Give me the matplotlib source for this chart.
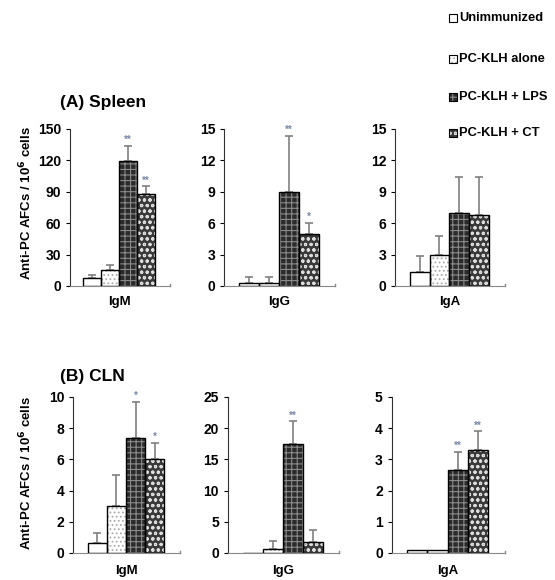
import numpy as np
import matplotlib.pyplot as plt
from matplotlib.patches import Rectangle

plt.rcParams['font.family'] = ['Liberation Sans', 'DejaVu Sans']
plt.rcParams['font.weight'] = 'bold'
plt.rcParams['hatch.linewidth'] = 0.8

groups = ['Unimmunized', 'PC-KLH alone', 'PC-KLH + LPS', 'PC-KLH + CT']

# spleen
spleen_igm = [8, 15, 119, 88]
spleen_igm_err = [2, 5, 15, 7]
spleen_igm_sig = ['', '', '**', '**']
spleen_igg = [0.3, 0.3, 9.0, 5.0]
spleen_igg_err = [0.6, 0.6, 5.3, 1.0]
spleen_igg_sig = ['', '', '**', '*']
spleen_iga = [1.3, 3.0, 7.0, 6.8]
spleen_iga_err = [1.6, 1.8, 3.4, 3.6]
spleen_iga_sig = ['', '', '', '']

# CLN
cln_igm = [0.65, 3.0, 7.4, 6.05]
cln_igm_err = [0.6, 2.0, 2.3, 1.0]
cln_igm_sig = ['', '', '*', '*']
cln_igg = [0.0, 0.7, 17.5, 1.7]
cln_igg_err = [0.0, 1.2, 3.6, 2.0]
cln_igg_sig = ['', '', '**', '']
cln_iga = [0.08, 0.08, 2.65, 3.3]
cln_iga_err = [0.0, 0.0, 0.6, 0.6]
cln_iga_sig = ['', '', '**', '**']

# bar styles: (face, hatch, hatch colour)
styles = [('white', None, 'black'),
          ('white', '....', '#aaaaaa'),
          ('#2b2b2b', '+++', '#8a8a8a'),
          ('#3a3a3a', 'ooo', '#dddddd')]


def draw(ax, vals, errs, sig, ymax, step, label, pad):
    x = np.arange(1, 5)
    for i in range(4):
        face, hatch, hc = styles[i]
        ax.bar(x[i], vals[i], width=1.0, color=face, hatch=hatch,
               edgecolor=hc, linewidth=0, zorder=2)
        ax.bar(x[i], vals[i], width=1.0, fill=False, edgecolor='black',
               linewidth=1.0, zorder=3)
        if errs[i] > 0:
            ax.errorbar(x[i], vals[i], yerr=[[0], [errs[i]]], fmt='none',
                        ecolor='#808080', elinewidth=1.2, capsize=3,
                        capthick=1.2, zorder=1)
        if sig[i]:
            ax.text(x[i], vals[i] + errs[i] + ymax * 0.005, sig[i],
                    ha='center', va='bottom', fontsize=7, color='#7888a8')
    ax.set_xlim(-0.25, 5.33)
    ax.set_ylim(0, ymax)
    ax.set_yticks(np.arange(0, ymax + step / 2, step))
    ax.set_xticks([2.5], [label])
    ax.tick_params(axis='x', length=0, pad=pad, labelsize=9.5)
    ax.tick_params(axis='y', direction='out', length=3, labelsize=10)
    for t in ax.get_yticklabels() + ax.get_xticklabels():
        t.set_fontweight('bold')
    ax.spines['top'].set_visible(False)
    ax.spines['right'].set_visible(False)
    ax.spines['left'].set_color('#333333')
    ax.spines['bottom'].set_color('#888888')
    ax.plot([5.33, 5.33], [0, ymax * 0.015], color='#888888', lw=1,
            clip_on=False)


fig = plt.figure(figsize=(5.55, 5.8), dpi=100)

top_row = [(0.126, 0.180, spleen_igm, spleen_igm_err, spleen_igm_sig, 150, 30, 'IgM'),
           (0.404, 0.200, spleen_igg, spleen_igg_err, spleen_igg_sig, 15, 3, 'IgG'),
           (0.712, 0.198, spleen_iga, spleen_iga_err, spleen_iga_sig, 15, 3, 'IgA')]
bottom_row = [(0.132, 0.193, cln_igm, cln_igm_err, cln_igm_sig, 10, 2, 'IgM'),
              (0.411, 0.200, cln_igg, cln_igg_err, cln_igg_sig, 25, 5, 'IgG'),
              (0.706, 0.204, cln_iga, cln_iga_err, cln_iga_sig, 5, 1, 'IgA')]

for left, w, v, e, s, ymax, step, lab in top_row:
    ax = fig.add_axes([left, 0.507, w, 0.271])
    draw(ax, v, e, s, ymax, step, lab, 7)
for left, w, v, e, s, ymax, step, lab in bottom_row:
    ax = fig.add_axes([left, 0.0466, w, 0.269])
    draw(ax, v, e, s, ymax, step, lab, 9)

fig.text(60 / 555, 1 - 103 / 580, '(A) Spleen', fontsize=12.5,
         fontweight='bold', va='center')
fig.text(60 / 555, 1 - 376 / 580, '(B) CLN', fontsize=12.5,
         fontweight='bold', va='center')
ylab = 'Anti-PC AFCs / 10$^{6}$ cells'
fig.text(26 / 555, 1 - 203 / 580, ylab, rotation=90, fontsize=9.5,
         fontweight='bold', ha='center', va='center')
fig.text(26 / 555, 1 - 473 / 580, ylab, rotation=90, fontsize=9.5,
         fontweight='bold', ha='center', va='center')

# legend
leg_y = [18, 59, 97, 133]
for i, name in enumerate(groups):
    face, hatch, hc = styles[i]
    yc = 1 - leg_y[i] / 580
    sw, sh = 8 / 555, 8 / 580
    fig.add_artist(Rectangle((449 / 555, yc - sh / 2), sw, sh,
                             transform=fig.transFigure, facecolor=face,
                             hatch=hatch, edgecolor=hc, linewidth=0))
    fig.add_artist(Rectangle((449 / 555, yc - sh / 2), sw, sh,
                             transform=fig.transFigure, fill=False,
                             edgecolor='black', linewidth=0.8))
    fig.text(459 / 555, yc, name, fontsize=9.3, fontweight='bold',
             va='center', ha='left')

fig.savefig('out.png', dpi=100)
